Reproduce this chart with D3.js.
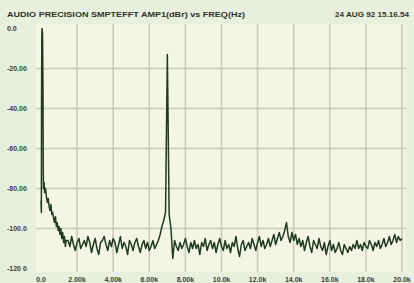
<!DOCTYPE html>
<html>
<head>
<meta charset="utf-8">
<script src="https://cdn.jsdelivr.net/npm/d3@7"></script>
<style>
    body { margin: 0; background: #e8efdc; }
    svg { display: block; }
</style>
</head>
<body>
<svg id="svg_fft" width="414" height="283"></svg>
<script>
"use strict";

//// data (kHz, dBr)
const xTicks = [0, 2, 4, 6, 8, 10, 12, 14, 16, 18, 20];
const xTickLabels = ["0.0", "2.00k", "4.00k", "6.00k", "8.00k", "10.0k", "12.0k", "14.0k", "16.0k", "18.0k", "20.0k"];
const yTicks = [0, -20, -40, -60, -80, -100, -120];
const yTickLabels = ["0.0", "-20.00", "-40.00", "-60.00", "-80.00", "-100.0", "-120 0"];

// low end: 60 Hz tone and its skirt
const lowFreq = [0, 0.02, 0.03, 0.045, 0.06, 0.085, 0.11, 0.125, 0.14, 0.17, 0.2, 0.25, 0.3, 0.35, 0.4, 0.45,
    0.5, 0.55, 0.6, 0.65, 0.7, 0.75, 0.8, 0.85, 0.9, 0.95, 1.0, 1.05, 1.1, 1.15, 1.2, 1.25, 1.3, 1.35, 1.4];
const lowAmp = [-86, -92, -40, -4, 0, -3, -30, -72, -80, -77, -82, -80, -84, -87, -85, -89,
    -91, -88, -93, -92, -95, -97, -94, -99, -97, -101, -99, -103, -100, -105, -102, -107, -104, -109, -106];

// noise floor and 7 kHz tone, 100 Hz bins from 1.5k to 20.0k
const floorStart = 1.5, floorStep = 0.1;
const floorAmp = [
    -106, -109, -104, -108, -111, -107, -105, -110, -108, -106,
    -109, -104, -107, -112, -108, -105, -110, -113, -107, -106,
    -104, -108, -111, -106, -109, -105, -107, -112, -108, -104,
    -110, -107, -109, -113, -106, -108, -111, -107, -105, -109,
    -112, -108, -106, -110, -107, -111, -109, -106, -110, -108,
    -106, -103, -99, -96, -92, -13, -93, -100, -115, -106,
    -109, -111, -107, -110, -108, -105, -109, -112, -107, -110,
    -106, -110, -108, -113, -107, -109, -105, -111, -108, -106,
    -110, -107, -112, -108, -105, -109, -111, -106, -110, -108,
    -112, -107, -109, -104, -110, -114, -108, -106, -111, -109,
    -107, -110, -105, -108, -111, -107, -104, -109, -106, -110,
    -108, -105, -109, -106, -103, -108, -105, -102, -106, -104,
    -101, -97, -104, -107, -102, -106, -103, -108, -105, -109,
    -106, -111, -107, -104, -109, -112, -106, -108, -110, -105,
    -109, -111, -107, -113, -109, -106, -111, -108, -112, -110,
    -107, -111, -113, -108, -110, -112, -109, -111, -108, -110,
    -106, -110, -108, -111, -107, -109, -110, -106, -108, -111,
    -107, -109, -106, -110, -108, -105, -109, -107, -104, -108,
    -106, -103, -107, -104, -106, -105
];

(function () {
    const svg = d3.select("#svg_fft");

    const x = d3.scaleLinear().domain([0, 20]).range([41, 402]);
    const y = d3.scaleLinear().domain([0, -120]).range([28.5, 268.5]);

    // plot area
    svg.append("rect")
        .attr("x", 36).attr("y", 24)
        .attr("width", 370).attr("height", 248)
        .attr("fill", "#f5f5e6");

    // grid
    const grid = svg.append("g")
        .attr("stroke", "#c8ccba")
        .attr("stroke-width", 1.6);
    grid.selectAll(".vgrid")
        .data(xTicks.slice(1))
        .enter().append("line")
            .attr("x1", function(d) { return x(d); })
            .attr("x2", function(d) { return x(d); })
            .attr("y1", 24).attr("y2", 272);
    grid.selectAll(".hgrid")
        .data(yTicks.slice(1, -1))
        .enter().append("line")
            .attr("x1", 36).attr("x2", 406)
            .attr("y1", function(d) { return y(d); })
            .attr("y2", function(d) { return y(d); });

    // axes labels
    const labelFont = "Liberation Sans, Arial, sans-serif";
    svg.append("g").selectAll("text")
        .data(yTicks)
        .enter().append("text")
            .attr("x", 7)
            .attr("y", function(d) { return y(d) + 2.6; })
            .attr("font-family", labelFont)
            .attr("font-size", "7px")
            .attr("font-weight", "bold")
            .attr("fill", "#3a3f38")
            .text(function(d, i) { return yTickLabels[i]; });

    svg.append("g").selectAll("text")
        .data(xTicks)
        .enter().append("text")
            .attr("x", function(d) { return x(d); })
            .attr("y", 282)
            .attr("text-anchor", "middle")
            .attr("font-family", labelFont)
            .attr("font-size", "7px")
            .attr("font-weight", "bold")
            .attr("fill", "#3a3f38")
            .text(function(d, i) { return xTickLabels[i]; });

    // header
    svg.append("text")
        .attr("x", 7).attr("y", 17)
        .attr("font-family", labelFont)
        .attr("font-size", "7.4px")
        .attr("font-weight", "bold")
        .attr("fill", "#2e342c")
        .attr("textLength", 238)
        .attr("lengthAdjust", "spacingAndGlyphs")
        .text("AUDIO PRECISION SMPTEFFT  AMP1(dBr)   vs   FREQ(Hz)");
    svg.append("text")
        .attr("x", 335).attr("y", 17)
        .attr("font-family", labelFont)
        .attr("font-size", "7.4px")
        .attr("font-weight", "bold")
        .attr("fill", "#2e342c")
        .attr("textLength", 74)
        .attr("lengthAdjust", "spacingAndGlyphs")
        .text("24 AUG 92 15.16.54");

    // trace
    const points = lowFreq.map(function(f, i) { return [f, lowAmp[i]]; })
        .concat(floorAmp.map(function(a, i) { return [floorStart + i * floorStep, a]; }));

    svg.append("path")
        .datum(points)
        .attr("fill", "none")
        .attr("stroke", "#1f3a25")
        .attr("stroke-width", 1.5)
        .attr("stroke-linejoin", "round")
        .attr("d", d3.line()
            .x(function(d) { return x(d[0]); })
            .y(function(d) { return y(d[1]); }));
})();
</script>
</body>
</html>
